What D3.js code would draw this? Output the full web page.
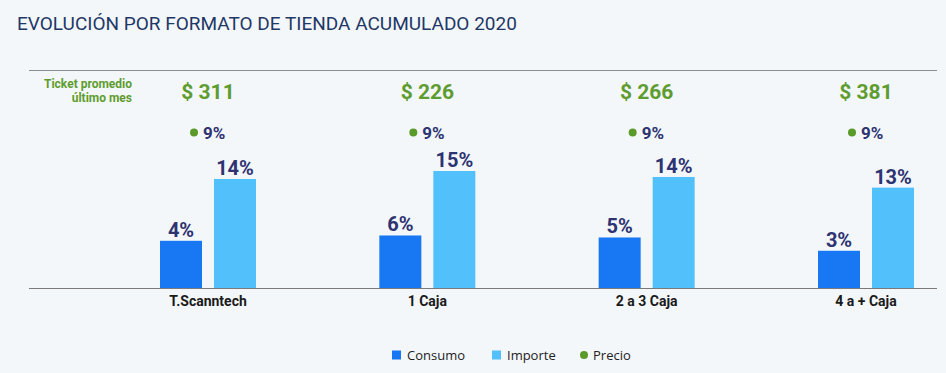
<!DOCTYPE html>
<html lang="es">
<head>
<meta charset="UTF-8">
<title>Evolución por formato de tienda</title>
<script src="https://d3js.org/d3.v7.min.js"></script>
<style>
    body { margin: 0; background: #f3f7fa; font-family: Roboto, "Noto Sans", sans-serif; }
    svg { display: block; }
</style>
</head>
<body>
<div id="chart"></div>
<script>
// chart data
const categories = ["T.Scanntech", "1 Caja", "2 a 3 Caja", "4 a + Caja"];
const consumo = [4.5, 5.3, 5.0, 3.0];
const importe = [13.8, 15.0, 14.1, 12.5];
const consumoLabels = ["4%", "6%", "5%", "3%"];
const importeLabels = ["14%", "15%", "14%", "13%"];
const precioLabels = ["9%", "9%", "9%", "9%"];
const ticket = ["$ 311", "$ 226", "$ 266", "$ 381"];
const seriesNames = ["Consumo", "Importe", "Precio"];

const width = 946, height = 373;
const navy = "#2e3371", green = "#5f9c2f";
const colors = { Consumo: "#1878f3", Importe: "#52c0fa", Precio: "#5a9a2a" };

const svg = d3.select("#chart").append("svg")
    .attr("width", width)
    .attr("height", height);

svg.append("text")
    .attr("x", 17).attr("y", 30)
    .attr("font-size", 19)
    .attr("fill", "#1f3866")
    .text("EVOLUCIÓN POR FORMATO DE TIENDA ACUMULADO 2020");

// scales
const x = d3.scalePoint().domain(categories).range([208, 866]);
const x1 = d3.scaleBand().domain(["Consumo", "Importe"]).range([-48, 48]).paddingInner(0.222);
const y = d3.scaleLinear().domain([-2.6, 15]).range([288, 171]);

// top rule
svg.append("line")
    .attr("x1", 29).attr("x2", 937).attr("y1", 70.5).attr("y2", 70.5)
    .attr("stroke", "#8c8c8c").attr("stroke-width", 1.2);

svg.append("text")
    .attr("x", 132).attr("y", 88)
    .attr("text-anchor", "end")
    .attr("font-size", 12).attr("font-weight", "bold")
    .attr("fill", green)
    .text("Ticket promedio");
svg.append("text")
    .attr("x", 132).attr("y", 102)
    .attr("text-anchor", "end")
    .attr("font-size", 12).attr("font-weight", "bold")
    .attr("fill", green)
    .text("último mes");

const groups = svg.selectAll("g.cat")
    .data(categories)
    .enter().append("g")
    .attr("class", "cat")
    .attr("transform", d => "translate(" + x(d) + ",0)");

groups.append("text")
    .attr("y", 99)
    .attr("text-anchor", "middle")
    .attr("font-size", 21).attr("font-weight", "bold")
    .attr("fill", green)
    .text((d, i) => ticket[i]);

groups.append("circle")
    .attr("cx", -14).attr("cy", 132.5).attr("r", 4)
    .attr("fill", colors.Precio);

groups.append("text")
    .attr("x", -5).attr("y", 139)
    .attr("font-size", 17).attr("font-weight", "bold")
    .attr("fill", navy)
    .text((d, i) => precioLabels[i]);

const bars = [
    { key: "Consumo", values: consumo, labels: consumoLabels },
    { key: "Importe", values: importe, labels: importeLabels }
];

bars.forEach(s => {
    groups.append("rect")
        .attr("x", x1(s.key))
        .attr("width", x1.bandwidth())
        .attr("y", (d, i) => y(s.values[i]))
        .attr("height", (d, i) => y(-2.6) - y(s.values[i]))
        .attr("fill", colors[s.key]);

    groups.append("text")
        .attr("x", x1(s.key) + x1.bandwidth() / 2)
        .attr("y", (d, i) => y(s.values[i]) - 4)
        .attr("text-anchor", "middle")
        .attr("font-size", 20).attr("font-weight", "bold")
        .attr("fill", navy)
        .text((d, i) => s.labels[i]);
});

// baseline
svg.append("line")
    .attr("x1", 29).attr("x2", 937).attr("y1", 288.5).attr("y2", 288.5)
    .attr("stroke", "#7a7a7a").attr("stroke-width", 1.2);

groups.append("text")
    .attr("y", 306)
    .attr("text-anchor", "middle")
    .attr("font-size", 14).attr("font-weight", "bold")
    .attr("fill", "#1a1a1a")
    .text(d => d);

// legend
const legendX = [392, 492, 580];
const legend = svg.selectAll("g.legend")
    .data(seriesNames)
    .enter().append("g")
    .attr("class", "legend")
    .attr("transform", (d, i) => "translate(" + legendX[i] + ",355)");

legend.each(function(d) {
    const g = d3.select(this);
    if (d === "Precio") {
        g.append("circle").attr("cx", 4).attr("cy", 0).attr("r", 4).attr("fill", colors[d]);
    } else {
        g.append("rect").attr("x", 0).attr("y", -4.5).attr("width", 9).attr("height", 9).attr("fill", colors[d]);
    }
    g.append("text")
        .attr("x", d === "Precio" ? 13 : 15)
        .attr("y", 4.5)
        .attr("font-size", 13)
        .attr("font-family", "'Open Sans', sans-serif")
        .attr("fill", "#222")
        .text(d);
});
</script>
</body>
</html>
